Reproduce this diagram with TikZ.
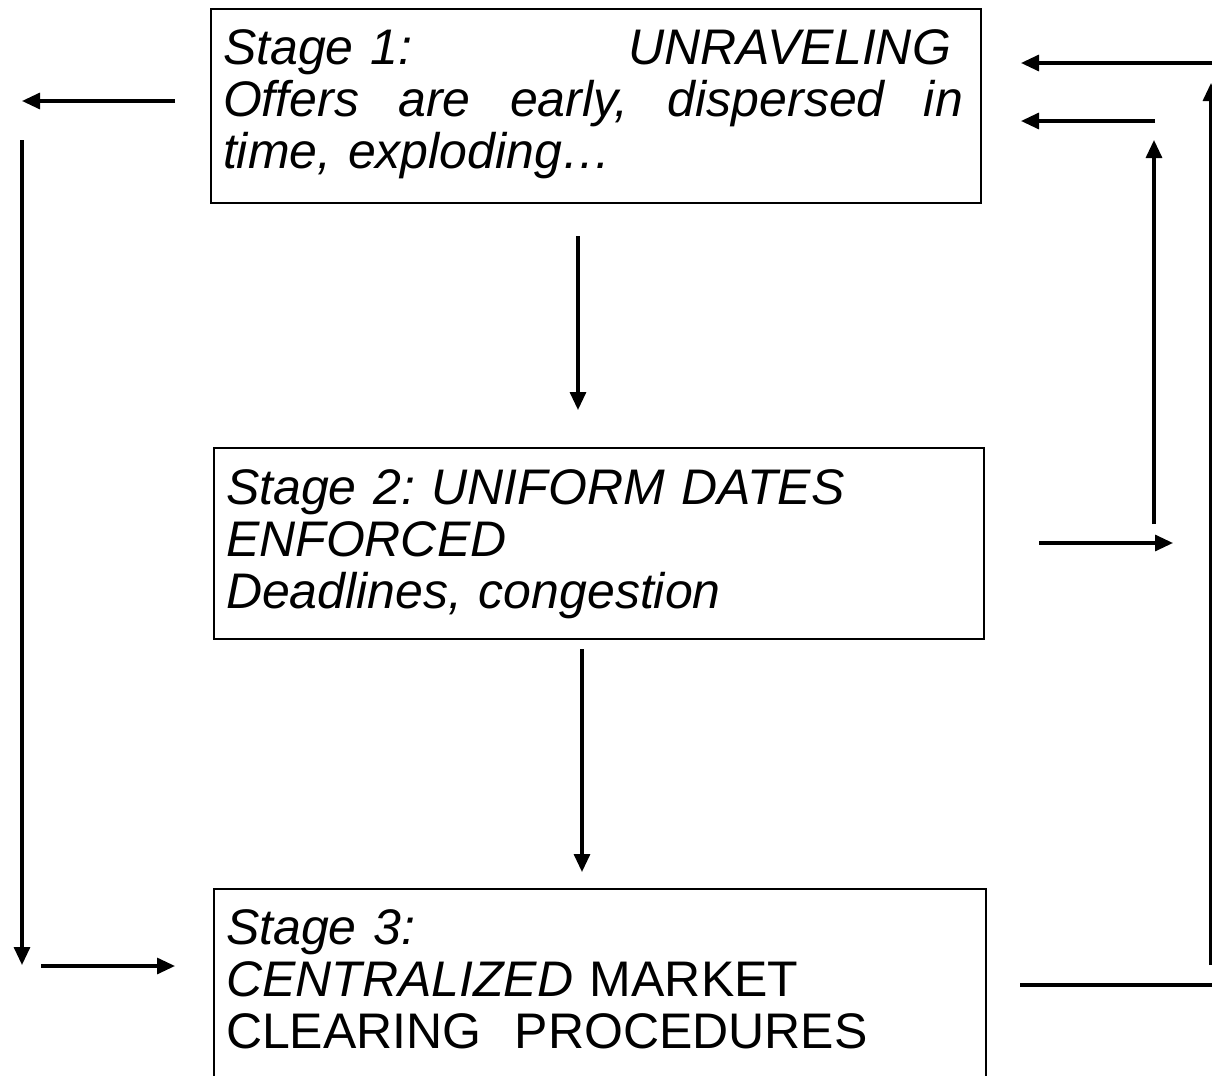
\documentclass[tikz,border=0pt]{standalone}
\usepackage{fontspec}
\setmainfont{Liberation Sans}
\usetikzlibrary{arrows.meta,positioning}
\tikzset{
  stagebox/.style={draw, line width=1pt, anchor=north west, align=left, inner xsep=6pt, inner ysep=0pt, font=\fontsize{25}{26}\selectfont\frenchspacing},
  arrow/.style={-{Triangle[length=9pt,width=8pt]}, line width=1.6pt},
  bar/.style={line width=2pt},
}

\begin{document}
\begin{tikzpicture}[x=0.5pt, y=-0.5pt]
  \useasboundingbox (0,0) rectangle (1212,1076);

  \node[stagebox, text width=373pt, text height=27.5pt, text depth=69.5pt] (unravel) at (210,8)
    {\itshape Stage 1:\hfill UNRAVELING\kern9pt\mbox{}\\
     Offers\hfill are\hfill early,\hfill dispersed\hfill in\kern3pt\mbox{}\\
     time, exploding\ldots};
  \node[stagebox, text width=373pt, text height=28pt, text depth=67.5pt] (uniform) at (213,447)
    {\itshape Stage 2: UNIFORM DATES\\ENFORCED\\Deadlines, congestion};
  \node[stagebox, text width=374pt, text height=27.5pt, text depth=90pt] (central) at (213,888)
    {\textit{Stage 3:}\\\textit{CENTRALIZED} MARKET\\CLEARING~~PROCEDURES};

  % free ends of the connectors
  \coordinate (outL) at (175,101);
  \coordinate (tipL) at (22,101);
  \coordinate (downL) at (22,140);
  \coordinate (botL) at (22,965);
  \coordinate (inL) at (41,966);
  \coordinate (inC) at (175,966);
  \coordinate (d1a) at (578,236);
  \coordinate (d1b) at (578,410);
  \coordinate (d2a) at (582,649);
  \coordinate (d2b) at (582,872);
  \coordinate (outU) at (1039,543);
  \coordinate (tipU) at (1173,543);
  \coordinate (upUa) at (1154,524);
  \coordinate (upUb) at (1154,140);
  \coordinate (backUa) at (1155,121);
  \coordinate (backUb) at (1021,121);
  \coordinate (outC) at (1020,985);
  \coordinate (edgeC) at (1212,985);
  \coordinate (upRa) at (1211,965);
  \coordinate (upRb) at (1211,83);
  \coordinate (backRa) at (1212,63);
  \coordinate (backRb) at (1021,63);

  % Main flow
  \draw[arrow] (d1a) -- (d1b);
  \draw[arrow] (d2a) -- (d2b);

  % Left side
  \draw[arrow] (outL) -- (tipL);
  \draw[arrow] (downL) -- (botL);
  \draw[arrow] (inL) -- (inC);

  % Right side
  \draw[arrow] (outU) -- (tipU);
  \draw[arrow] (upUa) -- (upUb);
  \draw[arrow] (backUa) -- (backUb);
  \draw[bar] (outC) -- (edgeC);
  \draw[arrow] (upRa) -- (upRb);
  \draw[arrow] (backRa) -- (backRb);
\end{tikzpicture}
\end{document}
